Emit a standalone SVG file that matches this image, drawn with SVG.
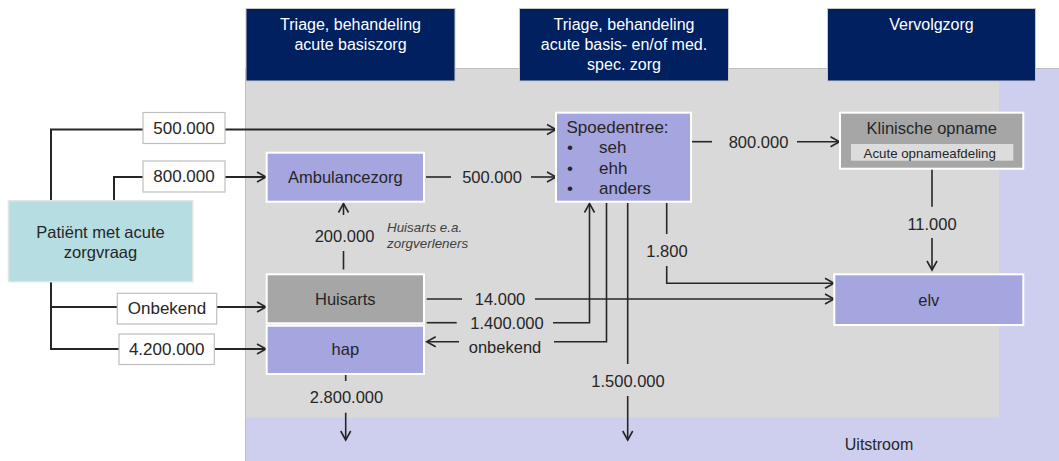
<svg xmlns="http://www.w3.org/2000/svg" width="1059" height="461" viewBox="0 0 1059 461">
<style>
text{font-family:"Liberation Sans",Arial,sans-serif;fill:#262626;dominant-baseline:central;text-anchor:middle}
.hd{fill:#002060;stroke:#c8c8c8;stroke-width:1}
.hdt{fill:#ffffff;font-size:16px}
.lb{fill:#ffffff;stroke:#bfbfbf;stroke-width:1.2}
.lbt{font-size:17px}
.fl{font-size:16.5px}
.nd{stroke:#ffffff;stroke-width:2}
.blue{fill:#a5a5e0}
.grey{fill:#a6a6a6}
.c{fill:none;stroke:#262626;stroke-width:1.6}
.ct{fill:none;stroke:#262626;stroke-width:2}
</style>
<defs>
<marker id="ah" markerUnits="userSpaceOnUse" markerWidth="14" markerHeight="14" viewBox="-12 -7 14 14" refX="0" refY="0" orient="auto">
<path d="M-9,-5 L0,0 L-9,5" fill="none" stroke="#262626" stroke-width="1.6"/>
</marker>
</defs>
<rect width="1059" height="461" fill="#ffffff"/>
<g id="background">
<rect x="245.5" y="68.5" width="814" height="393" fill="#cecfee" stroke="#bfbfbf" stroke-width="1"/>
<rect x="246" y="69" width="753" height="348.5" fill="#d9d9d9"/>
</g>
<g id="header1"><rect class="hd" x="246" y="8.5" width="209" height="72.5"/>
<text class="hdt" x="350.5" y="24">Triage, behandeling</text><text class="hdt" x="350.5" y="44">acute basiszorg</text></g>
<g id="header2"><rect class="hd" x="519.5" y="8.5" width="209" height="72.5"/>
<text class="hdt" x="624" y="24">Triage, behandeling</text><text class="hdt" x="624" y="44">acute basis- en/of med.</text><text class="hdt" x="624" y="64.5">spec. zorg</text></g>
<g id="header3"><rect class="hd" x="827.5" y="8.5" width="208" height="72.5"/>
<text class="hdt" x="931.5" y="24">Vervolgzorg</text></g>
<g id="uitstroom"><text class="fl" x="879" y="444.5" style="font-size:16px">Uitstroom</text></g>
<g id="connectors">
<path class="ct" d="M51,201 V129.5 H143"/>
<path class="ct" d="M225,129.5 H556" marker-end="url(#ah)"/>
<path class="ct" d="M114,201 V177 H143"/>
<path class="ct" d="M225,177 H266" marker-end="url(#ah)"/>
<path class="ct" d="M51,282 V349 H119"/>
<path class="ct" d="M51,307 H117"/>
<path class="ct" d="M216.7,307 H266" marker-end="url(#ah)"/>
<path class="ct" d="M214.3,349 H266" marker-end="url(#ah)"/>
<path class="c" d="M426,177 H451"/>
<path class="c" d="M531,177 H556" marker-end="url(#ah)"/>
<text class="fl" x="492" y="177">500.000</text>
<path class="c" d="M343.5,269.5 V251"/>
<path class="c" d="M343.5,215 V203.5" marker-end="url(#ah)"/>
<text class="fl" x="344.5" y="235.5">200.000</text>
<text x="387" y="227" style="font-size:13.4px;font-style:italic;fill:#404040;text-anchor:start">Huisarts e.a.</text>
<text x="387" y="243.5" style="font-size:13.4px;font-style:italic;fill:#404040;text-anchor:start">zorgverleners</text>
<path class="c" d="M426.7,299 H462"/>
<path class="c" d="M535,299 H834" marker-end="url(#ah)"/>
<text class="fl" x="500" y="298.5">14.000</text>
<path class="c" d="M426.7,322.7 H456.7"/>
<path class="c" d="M553,322.7 H589.5 V203.5" marker-end="url(#ah)"/>
<text class="fl" x="507" y="322.5">1.400.000</text>
<path class="c" d="M606.5,203 V341.7 H554"/>
<path class="c" d="M459,341.7 H426.7" marker-end="url(#ah)"/>
<text class="fl" x="505" y="347">onbekend</text>
<path class="c" d="M627.7,203 V364"/>
<path class="c" d="M627.7,396 V440" marker-end="url(#ah)"/>
<text class="fl" x="628" y="380.5">1.500.000</text>
<path class="c" d="M666.7,203 V234"/>
<path class="c" d="M666.7,266 V283.3 H834" marker-end="url(#ah)"/>
<text class="fl" x="667" y="250.5">1.800</text>
<path class="c" d="M692,141.7 H712"/>
<path class="c" d="M797,141.7 H839.5" marker-end="url(#ah)"/>
<text class="fl" x="758.5" y="141.5">800.000</text>
<path class="c" d="M932,169 V206.7"/>
<path class="c" d="M932,238 V270" marker-end="url(#ah)"/>
<text class="fl" x="932" y="223.5">11.000</text>
<path class="c" d="M345.7,375 V381"/>
<path class="c" d="M345.7,412.7 V440" marker-end="url(#ah)"/>
<text class="fl" x="346.5" y="397">2.800.000</text>
</g>
<g id="label-500000"><rect class="lb" x="143" y="112.5" width="82" height="31"/><text class="lbt" x="184" y="128">500.000</text></g>
<g id="label-800000"><rect class="lb" x="143" y="161" width="82" height="31"/><text class="lbt" x="184" y="176.5">800.000</text></g>
<g id="label-onbekend"><rect class="lb" x="117.3" y="293.3" width="99.4" height="30.7"/><text class="lbt" x="167" y="308.5">Onbekend</text></g>
<g id="label-4200000"><rect class="lb" x="119" y="334" width="95.3" height="30.5"/><text class="lbt" x="166.7" y="349">4.200.000</text></g>
<g id="patient"><rect x="8.5" y="200.7" width="184.2" height="81" fill="#b6dde1" stroke="#e4e4e4" stroke-width="1.5"/>
<text class="fl" x="100.5" y="231.7">Patiënt met acute</text><text class="fl" x="100.5" y="251.7">zorgvraag</text></g>
<g id="ambulancezorg"><rect class="nd blue" x="266.7" y="152.7" width="157.3" height="49"/><text class="fl" x="345.3" y="177">Ambulancezorg</text></g>
<g id="huisarts"><rect class="nd grey" x="266.7" y="274.3" width="157.3" height="49"/><text class="fl" x="345.3" y="299.3">Huisarts</text></g>
<g id="hap"><rect class="nd blue" x="266.7" y="325.7" width="157.3" height="48.3"/><text class="fl" x="345.3" y="349.3">hap</text></g>
<g id="spoedentree"><rect class="nd blue" x="556" y="112.7" width="135" height="89"/>
<text x="566.5" y="127" style="font-size:17px;text-anchor:start">Spoedentree:</text>
<text x="570" y="147" style="font-size:17px">•</text><text x="599" y="147" style="font-size:17px;text-anchor:start">seh</text>
<text x="570" y="168" style="font-size:17px">•</text><text x="599" y="168" style="font-size:17px;text-anchor:start">ehh</text>
<text x="570" y="188.5" style="font-size:17px">•</text><text x="599" y="188.5" style="font-size:17px;text-anchor:start">anders</text></g>
<g id="klinische-opname"><rect class="nd grey" x="840" y="112.7" width="183.3" height="56"/>
<text class="fl" x="931.7" y="128.3">Klinische opname</text>
<rect x="851" y="144" width="162.3" height="16.7" fill="#dcdcdc"/>
<text x="929.7" y="153" style="font-size:13.3px">Acute opnameafdeling</text></g>
<g id="elv"><rect class="nd blue" x="834.3" y="274.3" width="189" height="50.7"/><text class="fl" x="928.8" y="300">elv</text></g>
</svg>
